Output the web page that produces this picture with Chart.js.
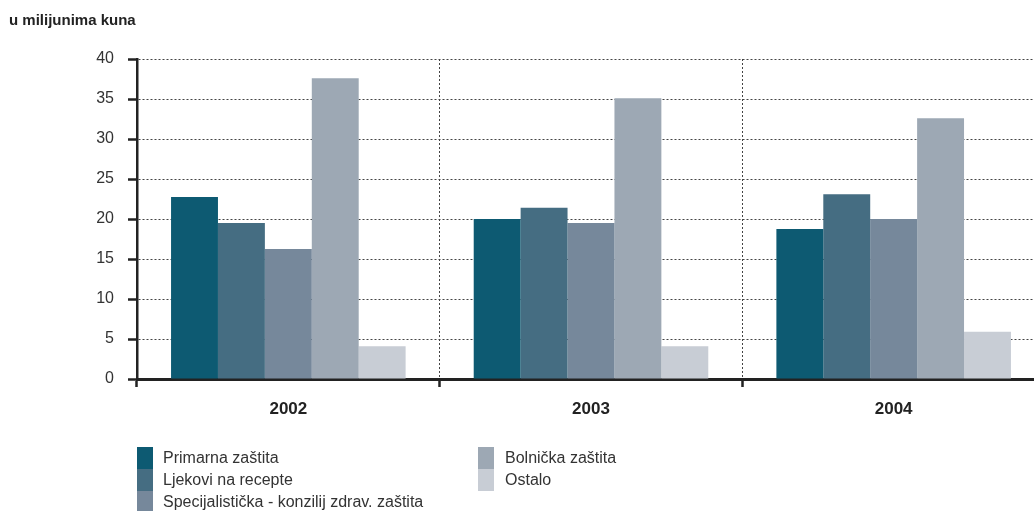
<!DOCTYPE html>
<html>
<head>
<meta charset="utf-8">
<script src="https://cdn.jsdelivr.net/npm/chart.js@4"></script>
<style>
  html, body { margin: 0; padding: 0; background: #fff; overflow: hidden; }
  #wrap { width: 1045px; height: 511px; }
</style>
</head>
<body>
<div id="wrap"><canvas id="c" width="1045" height="511"></canvas></div>
<script>
const categories = ['2002', '2003', '2004'];
const seriesNames = ['Primarna zaštita', 'Ljekovi na recepte', 'Specijalistička - konzilij zdrav. zaštita', 'Bolnička zaštita', 'Ostalo'];
const primarna = [22.75, 20.0, 18.75];
const ljekovi = [19.5, 21.4, 23.1];
const specijalisticka = [16.25, 19.5, 20.0];
const bolnicka = [37.6, 35.1, 32.6];
const ostalo = [4.1, 4.1, 5.9];
const seriesColors = ['#0d5a72', '#456d82', '#76889b', '#9da8b4', '#c8cdd5'];
const yTicks = [0, 5, 10, 15, 20, 25, 30, 35, 40];
const titleText = 'u milijunima kuna';

const FONT = '"Liberation Sans", Arial, sans-serif';
const allSeries = [primarna, ljekovi, specijalisticka, bolnicka, ostalo];

const extras = {
  id: 'extras',
  afterDraw(chart) {
    const ctx = chart.ctx;
    ctx.save();
    // title
    ctx.fillStyle = '#222';
    ctx.font = 'bold 15px ' + FONT;
    ctx.textAlign = 'left';
    ctx.textBaseline = 'alphabetic';
    ctx.fillText(titleText, 9, 25);
    // legend
    const rowH = 22, top = 447;
    const cols = [{box: 137, text: 163, items: [0, 1, 2]}, {box: 478, text: 505, items: [3, 4]}];
    ctx.font = '16px ' + FONT;
    ctx.textBaseline = 'middle';
    cols.forEach(col => {
      col.items.forEach((di, r) => {
        const ds = chart.data.datasets[di];
        ctx.fillStyle = ds.backgroundColor;
        ctx.fillRect(col.box, top + r * rowH, 16, rowH);
        ctx.fillStyle = '#333';
        ctx.fillText(ds.label, col.text, top + r * rowH + rowH / 2 + 1);
      });
    });
    ctx.restore();
  }
};

new Chart(document.getElementById('c'), {
  type: 'bar',
  data: {
    labels: categories,
    datasets: allSeries.map((d, i) => ({
      label: seriesNames[i],
      data: d,
      backgroundColor: seriesColors[i],
      borderWidth: 0,
      categoryPercentage: 0.775,
      barPercentage: 1.0
    }))
  },
  options: {
    responsive: false,
    animation: false,
    layout: { padding: { top: 59, left: 0, right: 0, bottom: 0 } },
    plugins: { legend: { display: false }, tooltip: { enabled: false }, title: { display: false } },
    scales: {
      x: {
        offset: true,
        grid: {
          offset: true,
          display: true,
          color: '#444',
          lineWidth: 1,
          drawTicks: true,
          tickLength: 8,
          tickColor: '#222',
          tickWidth: 2.5
        },
        border: { display: true, color: '#222', width: 3, dash: [2, 2] },
        ticks: {
          color: '#222',
          font: { family: FONT, size: 17, weight: 'bold' },
          padding: 12
        },
        afterFit(scale) { scale.height = 132; }
      },
      y: {
        min: 0,
        max: 40,
        afterBuildTicks(scale) { scale.ticks = yTicks.map(v => ({ value: v })); },
        grid: {
          color: '#444',
          lineWidth: 1,
          drawTicks: true,
          tickLength: 9,
          tickColor: '#222',
          tickWidth: 2.5
        },
        border: { display: true, color: '#222', width: 2.5, dash: [2, 2] },
        ticks: {
          color: '#333',
          font: { family: FONT, size: 16 },
          padding: 14
        },
        afterFit(scale) { scale.width = 137; }
      }
    }
  },
  plugins: [extras]
});
</script>
</body>
</html>
